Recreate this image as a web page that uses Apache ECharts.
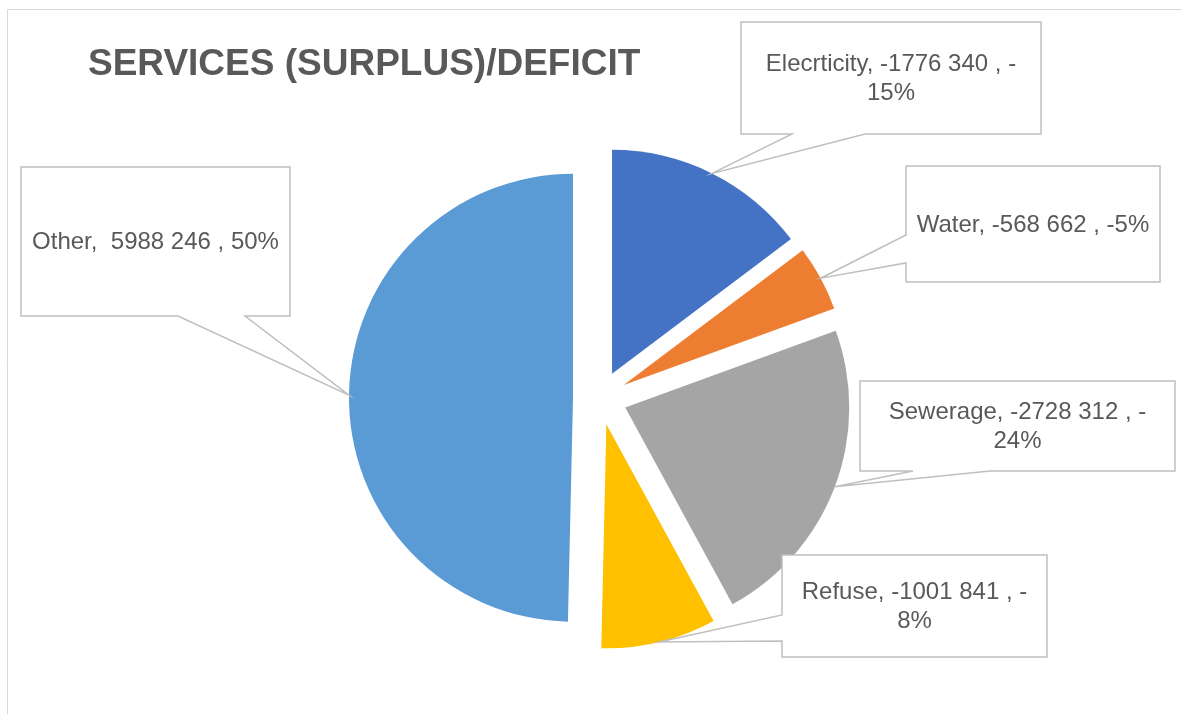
<!DOCTYPE html>
<html>
<head>
<meta charset="utf-8">
<script src="https://cdn.jsdelivr.net/npm/echarts@6/dist/echarts.min.js"></script>
<style>
  html, body { margin: 0; padding: 0; background: #ffffff; }
  #chart { width: 1181px; height: 714px; }
</style>
</head>
<body>
<div id="chart"></div>
<script>
// ---- data ----
const titleText = 'SERVICES (SURPLUS)/DEFICIT';
const categories = ['Elecrticity', 'Water', 'Sewerage', 'Refuse', 'Other'];
const values = [-1776340, -568662, -2728312, -1001841, 5988246];
const percents = [-15, -5, -24, -8, 50];

// ---- styles / layout ----
const colors = ['#4472C4', '#ED7D31', '#A5A5A5', '#FFC000', '#5B9BD5'];
const textColor = '#595959';
const boxColor = '#BFBFBF';
const FONT = '"Liberation Sans", Arial, Helvetica, sans-serif';
const LABEL_FONT = '24px ' + FONT;
const pieCenter = [600, 398];
const pieRadius = 224;
const explode = 27;
// callout boxes: x, y, w, h, text width, side of the pointer base and its two ends
const callouts = [
  { x: 741, y: 22,  w: 300, h: 112, tw: 272, side: 'bottom', b1: 792, b2: 865 },
  { x: 906, y: 166, w: 254, h: 116, tw: 246, side: 'left',   b1: 235, b2: 263 },
  { x: 860, y: 381, w: 315, h: 90,  tw: 290, side: 'bottom', b1: 913, b2: 990 },
  { x: 782, y: 555, w: 265, h: 102, tw: 245, side: 'left',   b1: 615, b2: 641 },
  { x: 21,  y: 167, w: 269, h: 149, tw: 258, side: 'bottom', b1: 178, b2: 245 }
];

function fmtNum(v) {
  const s = String(Math.abs(Math.round(v)));
  const g = s.length > 3 ? s.slice(0, -3) + ' ' + s.slice(-3) : s;
  return (v < 0 ? '-' : ' ') + g;
}
function labelText(i) {
  return categories[i] + ', ' + fmtNum(values[i]) + ' , ' + percents[i] + '%';
}

// word wrap allowing breaks after spaces and hyphens (as the reference does)
const mctx = document.createElement('canvas').getContext('2d');
mctx.font = LABEL_FONT;
function wrap(text, maxW) {
  const tokens = text.match(/[^ \-]*[ \-]|[^ \-]+$/g) || [text];
  const lines = [];
  let cur = '';
  tokens.forEach(t => {
    const cand = cur + t;
    if (cur && mctx.measureText(cand.replace(/ +$/, '')).width > maxW) {
      lines.push(cur.replace(/ +$/, ''));
      cur = t;
    } else {
      cur = cand;
    }
  });
  if (cur) lines.push(cur.replace(/ +$/, ''));
  return lines.join('\n');
}

const chart = echarts.init(document.getElementById('chart'), null, { renderer: 'canvas' });

const option = {
  animation: false,
  backgroundColor: '#ffffff',
  title: {
    text: titleText,
    left: 83,
    top: 41,
    textStyle: { fontFamily: FONT, fontWeight: 'bold', fontSize: 37, color: textColor }
  },
  series: [{
    type: 'pie',
    center: pieCenter,
    radius: pieRadius,
    startAngle: 90,
    clockwise: true,
    selectedMode: 'multiple',
    selectedOffset: explode,
    label: { show: false },
    labelLine: { show: false },
    emphasis: { disabled: true },
    itemStyle: { borderWidth: 0 },
    select: { itemStyle: { borderWidth: 0 } },
    data: categories.map((c, i) => ({
      name: c,
      value: Math.abs(values[i]),
      selected: true,
      itemStyle: { color: colors[i] },
      select: { itemStyle: { color: colors[i], borderWidth: 0 } }
    }))
  }],
  graphic: [{
    type: 'rect',
    shape: { x: 7.5, y: 9.5, width: 1300, height: 800 },
    style: { fill: 'none', stroke: '#D9D9D9', lineWidth: 1 },
    z: 0,
    silent: true
  }]
};
chart.setOption(option);

// Build callouts from the pie layout computed by ECharts
const data = chart.getModel().getSeriesByIndex(0).getData();
const elements = [];
callouts.forEach((b, i) => {
  const lay = data.getItemLayout(i);
  const mid = (lay.startAngle + lay.endAngle) / 2;
  const tip = [
    lay.cx + (lay.r + explode) * Math.cos(mid),
    lay.cy + (lay.r + explode) * Math.sin(mid)
  ];
  const x0 = b.x, y0 = b.y, x1 = b.x + b.w, y1 = b.y + b.h;
  let pts;
  if (b.side === 'bottom') {
    pts = [[x0, y0], [x1, y0], [x1, y1], [b.b2, y1], tip, [b.b1, y1], [x0, y1]];
  } else {
    pts = [[x0, y0], [x1, y0], [x1, y1], [x0, y1], [x0, b.b2], tip, [x0, b.b1]];
  }
  elements.push({
    type: 'polygon',
    shape: { points: pts },
    style: { fill: '#ffffff', stroke: boxColor, lineWidth: 1.5, lineJoin: 'miter' },
    z: 50,
    silent: true
  });
  elements.push({
    type: 'text',
    x: b.x + b.w / 2,
    y: b.y + b.h / 2 + 1,
    style: {
      text: wrap(labelText(i), b.tw),
      font: LABEL_FONT,
      fill: textColor,
      align: 'center',
      verticalAlign: 'middle',
      lineHeight: 29
    },
    z: 51,
    silent: true
  });
});
chart.setOption({ graphic: option.graphic.concat(elements) });
</script>
</body>
</html>
